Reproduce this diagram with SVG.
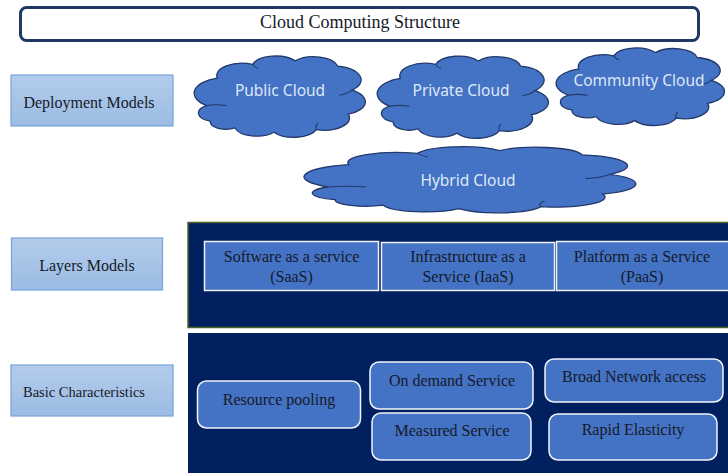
<svg xmlns="http://www.w3.org/2000/svg" xmlns:xlink="http://www.w3.org/1999/xlink" width="728" height="473" viewBox="0 0 728 473">
  <defs>
    <linearGradient id="labelFill" x1="0" y1="0" x2="0" y2="1">
      <stop offset="0" stop-color="#b3cceb"/>
      <stop offset="1" stop-color="#9bbbe3"/>
    </linearGradient>
    <!-- cloud outline drawn in a 100x100 box, scaled per node -->
    <path id="cloudShape" d="M10,60 A18.3,18.3 0 0 1 16,28 A14.3,14.3 0 0 1 36,12 A13.6,13.6 0 0 1 60,8 A13.8,13.8 0 0 1 84,14 A16.3,16.3 0 0 1 92,42 A15.7,15.7 0 0 1 90,70 A14.3,14.3 0 0 1 72,88 A13.6,13.6 0 0 1 48,91 A12.7,12.7 0 0 1 26,86 A9,9 0 0 1 12,78 A10.1,10.1 0 0 1 10,60 Z" fill="#4472c4" stroke="#22396b" stroke-width="1.3" vector-effect="non-scaling-stroke"/>
    <path id="cloudCreases" d="M10,60 Q15,58 21,60 M92,42 Q90,46 85,48 M72,88 Q71,84 73,80 M36,12 Q37,15 39,17" fill="none" stroke="#22396b" stroke-width="1.1" vector-effect="non-scaling-stroke"/>
  </defs>
  <style>
    .serif { font-family: "Liberation Serif", "Times New Roman", serif; fill: #141a2a; }
    .title { font-size: 18px; text-anchor: middle; }
    .label { font-size: 16px; }
    .item { font-size: 16px; text-anchor: middle; }
    .labelBox { fill: url(#labelFill); stroke: #76a3d9; stroke-width: 1.2; }
    .cloudText { font-family: "Noto Sans", "Open Sans", sans-serif; font-size: 15.5px; fill: #dde9f8; text-anchor: middle; }
    .layerBox { fill: #4472c4; stroke: #eef2f8; stroke-width: 1.5; }
    .charBox { fill: #4472c4; stroke: #f2f5fa; stroke-width: 1.5; }
  </style>

  <rect width="728" height="473" fill="#ffffff"/>

  <!-- heading -->
  <g id="title">
    <rect x="20.5" y="7.5" width="678" height="33" rx="6" fill="#ffffff" stroke="#1f3864" stroke-width="3"/>
    <text class="serif title" x="360" y="28">Cloud Computing Structure</text>
  </g>

  <!-- row labels -->
  <g id="deployment-models">
    <rect class="labelBox" x="11" y="75" width="162" height="51"/>
    <text class="serif label" x="89" y="107.5" text-anchor="middle">Deployment Models</text>
  </g>
  <g id="layers-models">
    <rect class="labelBox" x="11.5" y="238" width="151" height="52"/>
    <text class="serif label" x="87" y="270.5" text-anchor="middle" font-size="16.5">Layers Models</text>
  </g>
  <g id="basic-characteristics">
    <rect class="labelBox" x="11" y="365" width="162" height="51"/>
    <text class="serif" x="23" y="397" font-size="14.5">Basic Characteristics</text>
  </g>

  <!-- deployment clouds -->
  <g id="public-cloud">
    <g transform="translate(189,54) scale(1.77,0.86)">
      <use xlink:href="#cloudShape"/>
      <use xlink:href="#cloudCreases"/>
    </g>
    <text class="cloudText" x="280" y="95.5">Public Cloud</text>
  </g>
  <g id="private-cloud">
    <g transform="translate(372,54) scale(1.77,0.87)">
      <use xlink:href="#cloudShape"/>
      <use xlink:href="#cloudCreases"/>
    </g>
    <text class="cloudText" x="461" y="95.5">Private Cloud</text>
  </g>
  <g id="community-cloud">
    <g transform="translate(551,46) scale(1.74,0.82)">
      <use xlink:href="#cloudShape"/>
      <use xlink:href="#cloudCreases"/>
    </g>
    <text class="cloudText" x="639" y="85.5">Community Cloud</text>
  </g>
  <g id="hybrid-cloud">
    <g transform="translate(294,145) scale(3.43,0.70)">
      <use xlink:href="#cloudShape"/>
      <use xlink:href="#cloudCreases"/>
    </g>
    <text class="cloudText" x="468" y="185.5">Hybrid Cloud</text>
  </g>

  <!-- service layers panel -->
  <g id="layers-panel">
    <rect x="188" y="222.5" width="545" height="105" fill="#002060" stroke="#4f6228" stroke-width="1.5"/>
  </g>
  <g id="saas">
    <rect class="layerBox" x="204.5" y="241.5" width="174" height="49"/>
    <text class="serif item" x="291.5" y="262">Software as a service</text>
    <text class="serif item" x="291.5" y="282">(SaaS)</text>
  </g>
  <g id="iaas">
    <rect class="layerBox" x="381.5" y="242.5" width="173" height="48"/>
    <text class="serif item" x="468" y="262">Infrastructure as a</text>
    <text class="serif item" x="468" y="282">Service (IaaS)</text>
  </g>
  <g id="paas">
    <rect class="layerBox" x="556.5" y="241.5" width="180" height="49"/>
    <text class="serif item" x="642" y="262">Platform as a Service</text>
    <text class="serif item" x="642" y="282">(PaaS)</text>
  </g>

  <!-- characteristics panel -->
  <g id="characteristics-panel">
    <rect x="188" y="333" width="545" height="145" fill="#002060"/>
  </g>
  <g id="resource-pooling">
    <rect class="charBox" x="197.5" y="381" width="163" height="47" rx="9"/>
    <text class="serif item" x="279" y="404.5">Resource pooling</text>
  </g>
  <g id="on-demand-service">
    <rect class="charBox" x="370" y="362" width="163" height="47" rx="9"/>
    <text class="serif item" x="452" y="385.5">On demand Service</text>
  </g>
  <g id="measured-service">
    <rect class="charBox" x="372" y="413" width="159" height="47" rx="9"/>
    <text class="serif item" x="452" y="435.5">Measured Service</text>
  </g>
  <g id="broad-network-access">
    <rect class="charBox" x="545" y="359" width="178" height="43" rx="9"/>
    <text class="serif item" x="634" y="381.5">Broad Network access</text>
  </g>
  <g id="rapid-elasticity">
    <rect class="charBox" x="549" y="414" width="168" height="46" rx="9"/>
    <text class="serif item" x="633" y="434.5">Rapid Elasticity</text>
  </g>
</svg>
